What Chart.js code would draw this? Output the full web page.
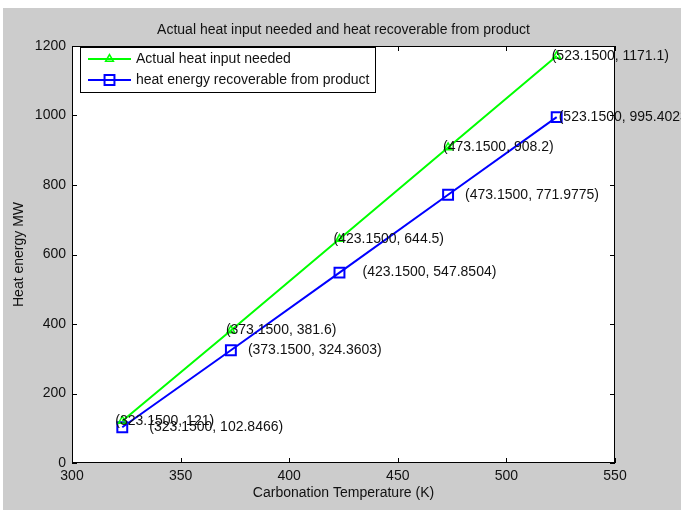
<!DOCTYPE html>
<html>
<head>
<meta charset="utf-8">
<script src="https://cdn.jsdelivr.net/npm/chart.js@4.4.1/dist/chart.umd.min.js"></script>
<style>
body { margin: 0; background: #fff; }
</style>
</head>
<body>
<canvas id="heatChart" width="681" height="510"></canvas>
<script>
var temps = [323.15, 373.15, 423.15, 473.15, 523.15];
var heatNeeded = [121, 381.6, 644.5, 908.2, 1171.1];
var heatRecoverable = [102.8466, 324.3603, 547.8504, 771.9775, 995.4023];
var xTicks = [300, 350, 400, 450, 500, 550];
var yTicks = [0, 200, 400, 600, 800, 1000, 1200];
var seriesNames = ["Actual heat input needed", "heat energy recoverable from product"];
var chartTitle = 'Actual heat input needed and heat recoverable from product';

// pixel nudges for the datatip text
var needDx = [-7, -5, -6, -5, -5];
var recDx = [27, 17, 23, 17, 2];

var FONT = '"Liberation Sans", Arial, Helvetica, sans-serif';
var INK = '#111';
Chart.defaults.font.family = FONT;
Chart.defaults.font.size = 14;
Chart.defaults.color = INK;

function toPoints(ys) {
    return temps.map(function (t, i) { return { x: t, y: ys[i] }; });
}

var matlabLook = {
    id: 'matlabLook',
    beforeDraw: function (chart) {
        var ctx = chart.ctx, a = chart.chartArea;
        ctx.save();
        ctx.fillStyle = '#fff';
        ctx.fillRect(0, 0, chart.width, chart.height);
        ctx.fillStyle = '#cccccc';
        ctx.fillRect(3, 8, chart.width - 3, chart.height - 8);
        ctx.fillStyle = '#fff';
        ctx.fillRect(a.left, a.top, a.right - a.left, a.bottom - a.top);
        // title centred over the axes, like matlab does
        ctx.font = '14px ' + FONT;
        ctx.fillStyle = INK;
        ctx.textAlign = 'center';
        ctx.textBaseline = 'middle';
        ctx.fillText(chartTitle, (a.left + a.right) / 2, 30);
        ctx.restore();
    },
    afterDatasetsDraw: function (chart) {
        var ctx = chart.ctx, a = chart.chartArea;
        var xs = chart.scales.x, ys = chart.scales.y;
        ctx.save();

        // box + inward ticks on all four sides
        ctx.strokeStyle = '#000';
        ctx.lineWidth = 1;
        ctx.beginPath();
        xs.ticks.forEach(function (t) {
            var px = Math.round(xs.getPixelForValue(t.value)) + 0.5;
            ctx.moveTo(px, a.bottom); ctx.lineTo(px, a.bottom - 5);
            ctx.moveTo(px, a.top); ctx.lineTo(px, a.top + 5);
        });
        ys.ticks.forEach(function (t) {
            var py = Math.round(ys.getPixelForValue(t.value)) + 0.5;
            ctx.moveTo(a.left, py); ctx.lineTo(a.left + 5, py);
            ctx.moveTo(a.right, py); ctx.lineTo(a.right - 5, py);
        });
        ctx.stroke();
        ctx.strokeRect(a.left + 0.5, a.top + 0.5, a.right - a.left - 1, a.bottom - a.top - 1);

        // datatips
        ctx.font = '14px ' + FONT;
        ctx.fillStyle = INK;
        ctx.textAlign = 'left';
        ctx.textBaseline = 'middle';
        [[heatNeeded, needDx], [heatRecoverable, recDx]].forEach(function (s, di) {
            chart.getDatasetMeta(di).data.forEach(function (pt, i) {
                ctx.fillText('(' + temps[i].toFixed(4) + ', ' + s[0][i] + ')', pt.x + s[1][i], pt.y);
            });
        });

        // legend box in the top-left corner
        var lx = 80, ly = 47, lw = 295, lh = 45;
        ctx.fillStyle = '#fff';
        ctx.fillRect(lx, ly, lw, lh);
        ctx.strokeStyle = '#000';
        ctx.strokeRect(lx + 0.5, ly + 0.5, lw, lh);
        var rows = [59, 80];
        chart.data.datasets.forEach(function (ds, i) {
            var y = rows[i];
            ctx.strokeStyle = ds.borderColor;
            ctx.lineWidth = ds.borderWidth;
            ctx.beginPath();
            ctx.moveTo(88, y); ctx.lineTo(131, y);
            ctx.stroke();
            ctx.fillStyle = 'rgba(0,0,0,0)';
            ctx.lineWidth = ds.pointBorderWidth;
            Chart.helpers.drawPoint(ctx, {
                pointStyle: ds.pointStyle, radius: ds.pointRadius,
                rotation: 0, borderWidth: ds.pointBorderWidth
            }, 109.5, y);
            ctx.fillStyle = INK;
            ctx.fillText(seriesNames[i], 136, y);
        });
        ctx.restore();
    }
};

function plainTick(v) { return String(v); }

var ctx = document.getElementById('heatChart').getContext('2d');
var heatChart = new Chart(ctx, {
    type: 'line',
    data: {
        datasets: [{
            label: seriesNames[0],
            data: toPoints(heatNeeded),
            borderColor: '#00ff00',
            borderWidth: 2,
            pointStyle: 'triangle',
            pointRadius: 4.5,
            pointBorderWidth: 1.5,
            pointBorderColor: '#00ff00',
            pointBackgroundColor: 'rgba(0,0,0,0)',
            tension: 0,
            fill: false
        }, {
            label: seriesNames[1],
            data: toPoints(heatRecoverable),
            borderColor: '#0000ff',
            borderWidth: 2,
            pointStyle: 'rect',
            pointRadius: 7,
            pointBorderWidth: 2,
            pointBorderColor: '#0000ff',
            pointBackgroundColor: 'rgba(0,0,0,0)',
            tension: 0,
            fill: false
        }]
    },
    options: {
        responsive: false,
        animation: false,
        events: [],
        layout: { padding: { left: 0, top: 46, right: 66, bottom: 0 } },
        plugins: {
            legend: { display: false },
            tooltip: { enabled: false },
            title: { display: false }
        },
        scales: {
            x: {
                type: 'linear',
                min: 300,
                max: 550,
                afterBuildTicks: function (s) { s.ticks = xTicks.map(function (v) { return { value: v }; }); },
                afterFit: function (s) { s.height = 47; },
                grid: { display: false, drawTicks: false },
                border: { display: false },
                ticks: { padding: 5, color: INK, font: { size: 14 }, callback: plainTick },
                title: {
                    display: true,
                    text: 'Carbonation Temperature (K)',
                    color: INK,
                    font: { size: 14 },
                    padding: { top: 0, bottom: 8.6 }
                }
            },
            y: {
                min: 0,
                max: 1200,
                afterBuildTicks: function (s) { s.ticks = yTicks.map(function (v) { return { value: v }; }); },
                afterFit: function (s) { s.width = 72; },
                grid: { display: false, drawTicks: false },
                border: { display: false },
                ticks: { padding: 6, color: INK, font: { size: 14 }, callback: plainTick },
                title: {
                    display: true,
                    text: 'Heat energy MW',
                    color: INK,
                    font: { size: 14 },
                    padding: { top: 10.6, bottom: 0 }
                }
            }
        }
    },
    plugins: [matlabLook]
});
</script>
</body>
</html>
